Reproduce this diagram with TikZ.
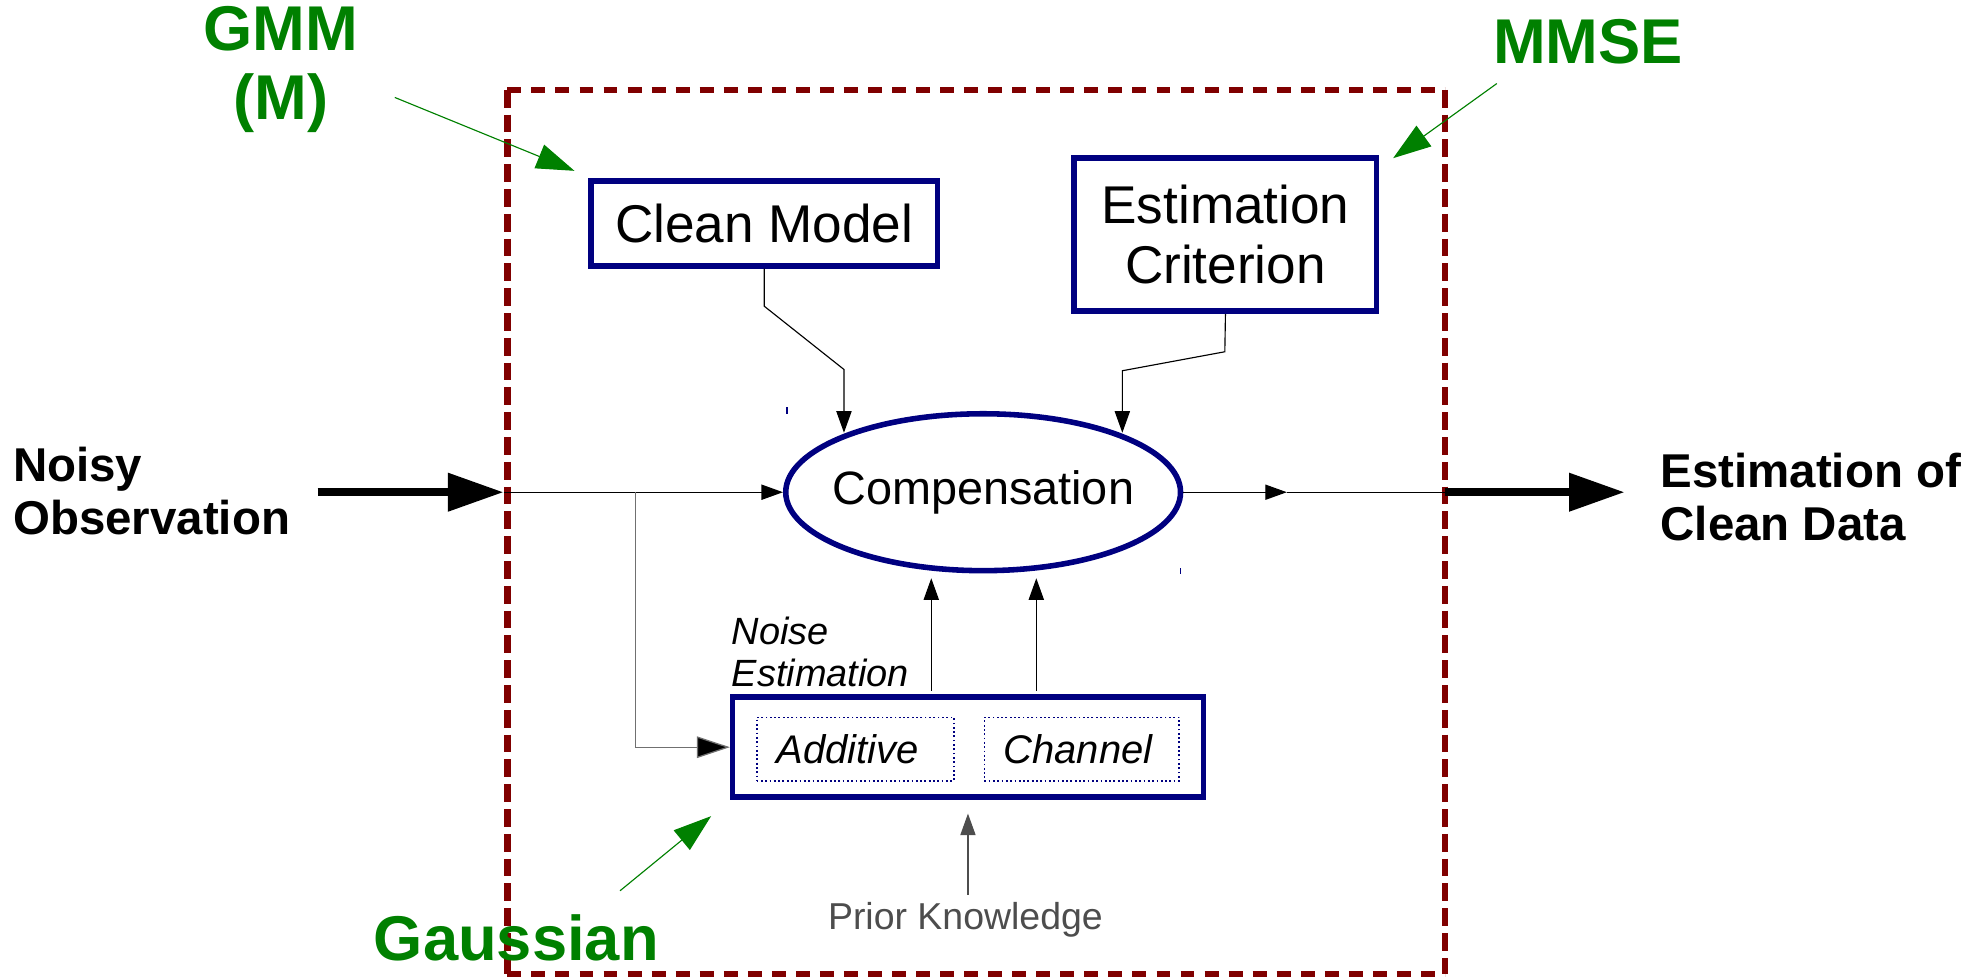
\documentclass[tikz,border=0pt]{standalone}
\usepackage{fontspec}
\setmainfont{Liberation Sans}
\usetikzlibrary{arrows.meta,shapes.geometric,calc}
\definecolor{navy}{HTML}{000080}
\definecolor{framered}{HTML}{800000}
\definecolor{lgreen}{HTML}{008000}
\definecolor{pgray}{HTML}{4D4D4D}
\definecolor{bgray}{HTML}{707070}
\begin{document}
\begin{tikzpicture}[x=0.5pt,y=-0.5pt,
  boxnode/.style={draw=navy, line width=2.2pt, fill=white, inner sep=0pt, align=center,
    font=\fontsize{21}{23.5}\selectfont},
  subbox/.style={draw=navy, densely dotted, line width=0.7pt, inner sep=0pt,
    font=\fontsize{15.8}{18}\selectfont\itshape},
  greenlbl/.style={text=lgreen, font=\fontsize{25}{27.5}\selectfont\bfseries, align=center, inner sep=0pt},
  iolbl/.style={font=\fontsize{18.75}{21}\selectfont\bfseries, align=left, inner sep=0pt, anchor=west},
  conn/.style={draw=black, line width=0.45pt},
  smalltip/.style={-{Triangle[length=8.5pt,width=6pt]}},
  bigarrow/.style={line width=3.2pt, -{Triangle[length=22pt,width=14.5pt]}},
  greenarrow/.style={draw=lgreen, line width=0.45pt, -{Triangle[length=15pt,width=10pt]}},
  hdash/.style={draw=framered, line width=2.6pt, dash pattern=on 5.5pt off 4pt},
  vdash/.style={draw=framered, line width=2.7pt, dash pattern=on 7pt off 2.8pt}
]
\useasboundingbox (0,0) rectangle (1568,772);

% dashed frame
\draw[hdash] (401,71) -- (1142,71);
\draw[hdash] (401,770) -- (1142,770);
\draw[vdash] (401,71) -- (401,770);
\draw[vdash] (1142,71) -- (1142,770);

% main nodes
\node[boxnode, minimum width=137pt, minimum height=33.5pt] (clean) at (604,176.5) {Clean Model};
\node[boxnode, minimum width=119.5pt, minimum height=60.5pt] (crit) at (968.5,185.5) {Estimation\\Criterion};
\node[ellipse, draw=navy, line width=2.2pt, inner sep=0pt, minimum width=156pt, minimum height=62pt] (comp) at (777,389) {};
\node[font=\fontsize{18.5}{21}\selectfont, inner sep=0pt] (comptext) at (comp.center) {Compensation};
\node[draw=navy, line width=2.2pt, minimum width=186pt, minimum height=39.5pt, inner sep=0pt] (noise) at (765,590.5) {};
\node[subbox, minimum width=78pt, minimum height=25pt] (add) at (676,592) {};
\node[font=\fontsize{15.8}{18}\selectfont\itshape, inner sep=0pt] (addtext) at (670,592) {Additive};
\node[subbox, minimum width=77pt, minimum height=25pt] (chan) at (855,592) {};
\node[font=\fontsize{15.8}{18}\selectfont\itshape, inner sep=0pt] (chantext) at (852,592) {Channel};

% tiny marks
\draw[navy, line width=0.5pt] (622,322) -- (622,327);
\draw[navy, line width=0.5pt] (933,449) -- (933,454);

% labels
\node[iolbl] (noisy) at (10,388) {Noisy\\Observation};
\node[iolbl] (estout) at (1312,393) {Estimation of\\Clean Data};
\node[greenlbl] (gmm) at (222,55) {GMM\\(M)};
\node[greenlbl] (mmse) at (1255,33) {MMSE};
\node[greenlbl] (gauss) at (408,741) {Gaussian};
\node[font=\fontsize{15}{16.5}\selectfont\itshape, align=left, inner sep=0pt, anchor=west] (nelbl) at (578,515) {Noise\\Estimation};
\node[text=pgray, font=\fontsize{14.8}{17}\selectfont, inner sep=0pt] (prior) at (763,727) {Prior Knowledge};

% coordinates
\coordinate (in0) at (251,389);
\coordinate (fin) at (398,389);
\coordinate (br) at (502,389);
\coordinate (mid) at (1017,389);
\coordinate (fout) at (1142,389);
\coordinate (outtip) at (1284,389);
\coordinate (cm1) at (604,242);
\coordinate (cm2) at (667,292);
\coordinate (cm3) at (667,342);
\coordinate (ec1) at (968,278);
\coordinate (ec2) at (887,293);
\coordinate (ec3) at (887,342);
\coordinate (ua0) at (736,546);
\coordinate (ua1) at (736,457);
\coordinate (ub0) at (819,546);
\coordinate (ub1) at (819,457);
\coordinate (gm0) at (312,77);
\coordinate (gm1) at (454,135);
\coordinate (ms0) at (1183,66);
\coordinate (ms1) at (1101,125);
\coordinate (ga0) at (490,704);
\coordinate (ga1) at (562,645);
\coordinate (pr0) at (765,707);
\coordinate (pr1) at (765,643);

% connectors
\draw[bigarrow] (in0) -- (fin);
\draw[conn, smalltip] (fin) -- (comp.west);
\draw[draw=bgray, line width=0.5pt, -{Triangle[length=13pt,width=8.5pt,fill=black]}] (br) |- (noise.west);
\draw[conn, smalltip] (comp.east) -- (mid);
\draw[conn] (mid) -- (fout);
\draw[bigarrow] (fout) -- (outtip);
\draw[conn, smalltip] (clean.south) -- (cm1) -- (cm2) -- (cm3);
\draw[conn, smalltip] (crit.south) -- (ec1) -- (ec2) -- (ec3);
\draw[conn, smalltip] (ua0) -- (ua1);
\draw[conn, smalltip] (ub0) -- (ub1);
\draw[draw=pgray, line width=0.45pt, -{Triangle[length=8.5pt,width=6pt,fill=pgray]}] (pr0) -- (pr1);
\draw[greenarrow] (gm0) -- (gm1);
\draw[greenarrow] (ms0) -- (ms1);
\draw[greenarrow] (ga0) -- (ga1);
\end{tikzpicture}
\end{document}
